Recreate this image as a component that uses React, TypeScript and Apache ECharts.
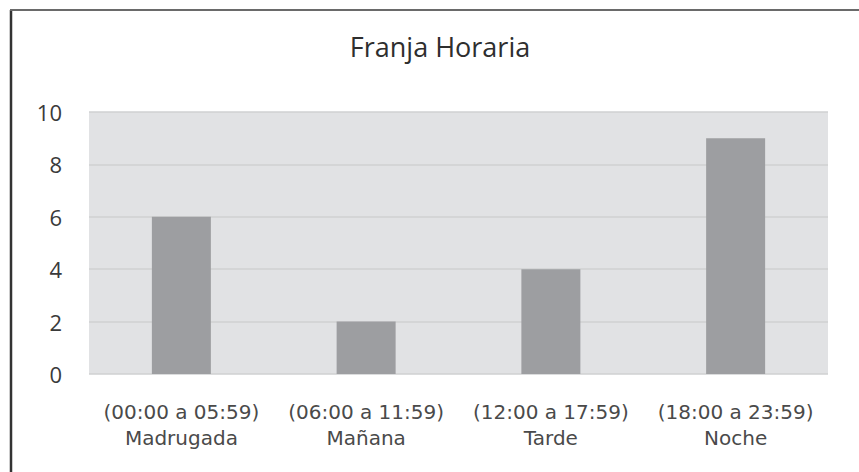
import React, { useEffect, useRef } from "react";
import * as echarts from "echarts";

const title = "Franja Horaria";
const ranges = ["(00:00 a 05:59)", "(06:00 a 11:59)", "(12:00 a 17:59)", "(18:00 a 23:59)"];
const names = ["Madrugada", "Mañana", "Tarde", "Noche"];
const values = [6, 2, 4, 9];
const yTicks = { min: 0, max: 10, interval: 2 };

const FONT = "'Open Sans', 'Noto Sans', sans-serif";
const LABEL_FONT = "'DejaVu Sans', 'Open Sans', sans-serif";

export default function App() {
  const ref = useRef<HTMLDivElement>(null);
  useEffect(() => {
    document.body.style.margin = "0";
    const chart = echarts.init(ref.current!, null, { renderer: "svg" });
    const categories = ranges.map((r, i) => r + "\n" + names[i]);
    chart.setOption({
      animation: false,
      backgroundColor: "#ffffff",
      textStyle: { fontFamily: FONT },
      grid: {
        left: 89,
        right: 31,
        top: 112,
        bottom: 98,
        show: true,
        backgroundColor: "#e1e2e4",
        borderWidth: 0,
      },
      graphic: [
        {
          type: "line",
          shape: { x1: 11, y1: 10, x2: 11, y2: 480 },
          style: { stroke: "#333333", lineWidth: 2.5 },
        },
        {
          type: "line",
          shape: { x1: 10, y1: 10, x2: 870, y2: 10 },
          style: { stroke: "#6a6a6a", lineWidth: 2 },
        },
        {
          type: "text",
          x: 440,
          y: 46,
          style: {
            text: title,
            fontFamily: FONT,
            fontSize: 27,
            fill: "#2e2e2e",
            textAlign: "center",
            textVerticalAlign: "middle",
          },
        },
      ],
      xAxis: {
        type: "category",
        data: categories,
        axisLine: { show: false },
        axisTick: { show: false },
        axisLabel: {
          margin: 25,
          fontSize: 20,
          lineHeight: 26,
          color: "#4a4a4a",
          fontFamily: LABEL_FONT,
          interval: 0,
        },
      },
      yAxis: {
        type: "value",
        min: yTicks.min,
        max: yTicks.max,
        interval: yTicks.interval,
        axisLine: { show: false },
        axisTick: { show: false },
        axisLabel: {
          margin: 27,
          fontSize: 22,
          color: "#3a3a3a",
          fontFamily: FONT,
        },
        splitLine: { lineStyle: { color: "#cfd0d2", width: 1.5 } },
      },
      series: [
        {
          type: "bar",
          data: values,
          barWidth: 59,
          itemStyle: { color: "#9d9ea1" },
        },
      ],
    });
    return () => chart.dispose();
  }, []);
  return <div ref={ref} style={{ width: 859, height: 472 }} />;
}
